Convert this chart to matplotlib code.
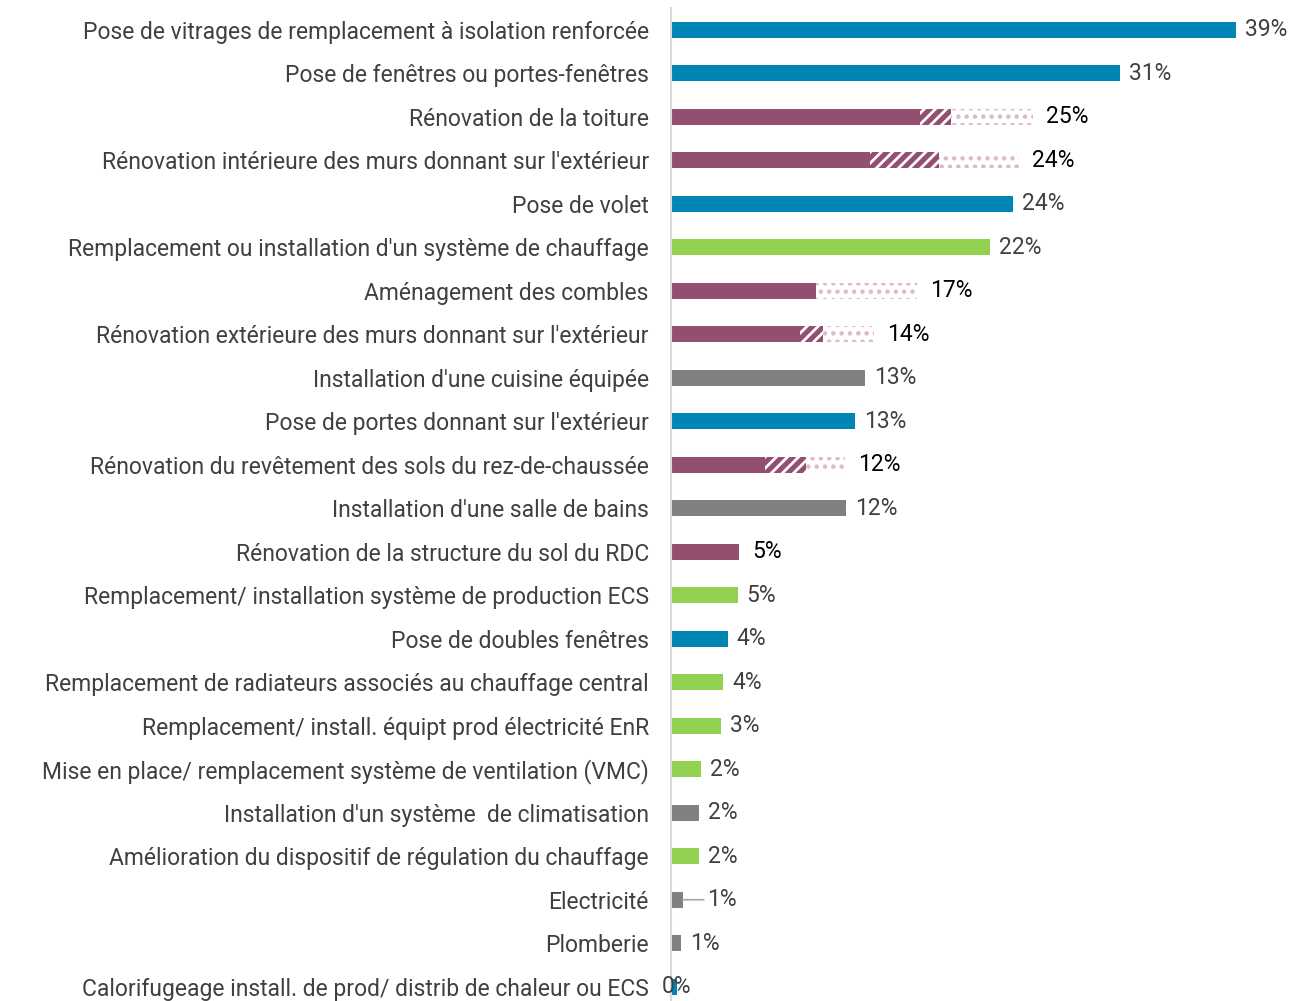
import matplotlib
matplotlib.use("Agg")
import matplotlib.pyplot as plt

plt.rcParams['font.family'] = ['Roboto', 'DejaVu Sans']
plt.rcParams['hatch.linewidth'] = 2.0

categories = [
    "Pose de vitrages de remplacement à isolation renforcée",
    "Pose de fenêtres ou portes-fenêtres",
    "Rénovation de la toiture",
    "Rénovation intérieure des murs donnant sur l'extérieur",
    "Pose de volet",
    "Remplacement ou installation d'un système de chauffage",
    "Aménagement des combles",
    "Rénovation extérieure des murs donnant sur l'extérieur",
    "Installation d'une cuisine équipée",
    "Pose de portes donnant sur l'extérieur",
    "Rénovation du revêtement des sols du rez-de-chaussée",
    "Installation d'une salle de bains",
    "Rénovation de la structure du sol du RDC",
    "Remplacement/ installation système de production ECS",
    "Pose de doubles fenêtres",
    "Remplacement de radiateurs associés au chauffage central",
    "Remplacement/ install. équipt prod électricité EnR",
    "Mise en place/ remplacement système de ventilation (VMC)",
    "Installation d'un système  de climatisation",
    "Amélioration du dispositif de régulation du chauffage",
    "Electricité",
    "Plomberie",
    "Calorifugeage install. de prod/ distrib de chaleur ou ECS",
]
groups = ["iso", "iso", "reno", "reno", "iso", "chauf", "reno", "reno", "autre",
          "iso", "reno", "autre", "reno", "chauf", "iso", "chauf", "chauf",
          "chauf", "autre", "chauf", "autre", "autre", "iso"]
pct_text = [39, 31, 25, 24, 24, 22, 17, 14, 13, 13, 12, 12, 5, 5, 4, 4, 3, 2, 2, 2, 1, 1, 0]
solid = [39.0, 31.0, 17.2, 13.7, 23.6, 22.0, 10.0, 8.9, 13.4, 12.7, 6.5, 12.1,
         4.7, 4.6, 3.9, 3.6, 3.45, 2.1, 1.9, 1.9, 0.8, 0.7, 0.4]
hatched = [0, 0, 2.1, 4.8, 0, 0, 0, 1.6, 0, 0, 2.8, 0,
           0, 0, 0, 0, 0, 0, 0, 0, 0, 0, 0]
dotted = [0, 0, 5.7, 5.5, 0, 0, 7.0, 3.5, 0, 0, 2.7, 0,
          0, 0, 0, 0, 0, 0, 0, 0, 0, 0, 0]

colors = {"iso": "#0085B5", "reno": "#934F6F", "chauf": "#92D050", "autre": "#808080"}
fs = 16.5

fig = plt.figure(figsize=(12.97, 10.01), dpi=100)
ax = fig.add_axes([671 / 1297, -7.5 / 1001, 626 / 1297, 1000.5 / 1001])

y = list(range(len(categories)))
bh = 0.36
bar_colors = [colors[g] for g in groups]
ax.barh(y, solid, height=bh, color=bar_colors, linewidth=0)
ax.barh(y, hatched, left=solid, height=bh, color="#934F6F", edgecolor="white",
        hatch="///", linewidth=0)
left2 = [s + h for s, h in zip(solid, hatched)]
ax.barh(y, dotted, left=left2, height=bh, color="white", edgecolor="#DDBACA",
        hatch="..", linewidth=0)

ax.set_xlim(0, 626 / 14.49)
ax.set_ylim(len(categories) - 0.5, -0.5)

for i in y:
    total = solid[i] + hatched[i] + dotted[i]
    txt = f"{pct_text[i]}%"
    if groups[i] == "reno":
        ax.annotate(txt, (total, i), xytext=(13, 0), textcoords="offset pixels",
                    va="center", ha="left", fontsize=fs, color="black")
    elif categories[i] == "Electricité":
        ax.annotate(txt, (total, i), xytext=(24, 0), textcoords="offset pixels",
                    va="center", ha="left", fontsize=fs, color="#404040",
                    arrowprops=dict(arrowstyle="-", color="#A6A6A6", lw=1.2,
                                    shrinkA=0, shrinkB=0))
    elif pct_text[i] == 0:
        ax.annotate(txt, (total, i), xytext=(0, 0), textcoords="offset pixels",
                    va="center", ha="center", fontsize=fs, color="#404040")
    else:
        ax.annotate(txt, (total, i), xytext=(9, 0), textcoords="offset pixels",
                    va="center", ha="left", fontsize=fs, color="#404040")

ax.set_yticks(y)
ax.set_yticklabels(categories, fontsize=fs, color="#404040")
ax.tick_params(axis="y", length=0, pad=16)
ax.set_xticks([])
for s in ["top", "right", "bottom"]:
    ax.spines[s].set_visible(False)
ax.spines["left"].set_color("#D9D9D9")
ax.spines["left"].set_linewidth(1.5)

fig.savefig("out.png", dpi=100)
